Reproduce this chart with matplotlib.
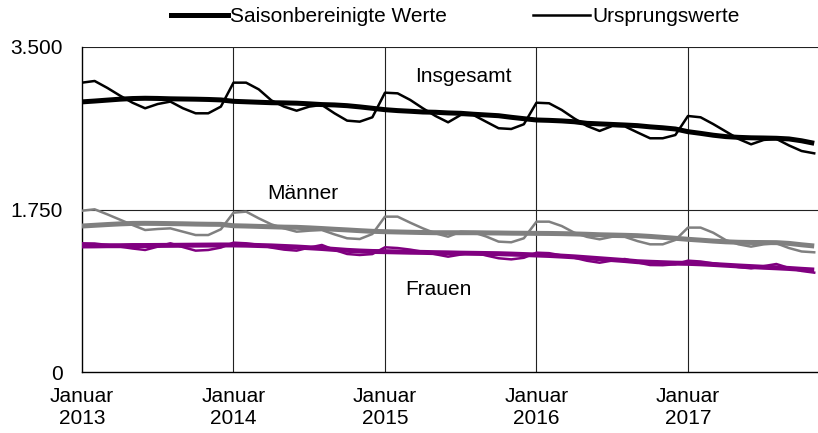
import matplotlib
matplotlib.use("Agg")
import matplotlib.pyplot as plt
from matplotlib.lines import Line2D

# ---------------- data (Jan 2013 .. Nov 2017) ----------------
ins_orig = [3116, 3134, 3060, 2977, 2900, 2840, 2886, 2912, 2840, 2786, 2786, 2858,
            3116, 3116, 3044, 2925, 2858, 2814, 2858, 2876, 2786, 2707, 2696, 2743,
            3008, 3001, 2930, 2840, 2757, 2689, 2768, 2768, 2696, 2625, 2617, 2668,
            2900, 2894, 2822, 2730, 2650, 2596, 2649, 2645, 2580, 2517, 2517, 2552,
            2757, 2743, 2670, 2590, 2510, 2452, 2499, 2510, 2440, 2380, 2355]
ins_sa = [2909, 2918, 2928, 2938, 2945, 2948, 2946, 2942, 2940, 2938, 2935, 2930,
          2915, 2910, 2905, 2900, 2898, 2895, 2888, 2880, 2876, 2868, 2855, 2840,
          2825, 2815, 2808, 2800, 2797, 2790, 2786, 2776, 2768, 2760, 2743, 2728,
          2714, 2710, 2704, 2695, 2678, 2672, 2666, 2660, 2653, 2640, 2630, 2617,
          2588, 2570, 2550, 2535, 2527, 2522, 2520, 2517, 2510, 2490, 2463]
maenner_orig = [1737, 1752, 1698, 1641, 1583, 1529, 1540, 1547, 1511, 1475, 1475, 1537,
                1716, 1727, 1655, 1590, 1547, 1511, 1522, 1529, 1482, 1440, 1432, 1486,
                1673, 1673, 1608, 1547, 1493, 1457, 1511, 1504, 1460, 1404, 1397, 1440,
                1619, 1619, 1572, 1500, 1455, 1429, 1457, 1455, 1410, 1375, 1375, 1422,
                1555, 1555, 1500, 1420, 1375, 1350, 1375, 1386, 1335, 1298, 1289]
maenner_sa = [1572, 1580, 1588, 1595, 1600, 1601, 1600, 1598, 1596, 1593, 1591, 1590,
              1575, 1572, 1568, 1564, 1560, 1558, 1552, 1545, 1537, 1530, 1522, 1515,
              1511, 1508, 1505, 1502, 1500, 1500, 1500, 1500, 1498, 1497, 1495, 1494,
              1493, 1492, 1490, 1487, 1483, 1478, 1475, 1472, 1468, 1460, 1450, 1440,
              1429, 1420, 1410, 1402, 1397, 1395, 1394, 1393, 1385, 1370, 1357]
frauen_orig = [1386, 1384, 1368, 1350, 1330, 1314, 1350, 1386, 1345, 1307, 1314, 1340,
               1393, 1386, 1370, 1340, 1318, 1307, 1340, 1368, 1315, 1271, 1260, 1270,
               1343, 1335, 1318, 1295, 1268, 1242, 1265, 1290, 1255, 1225, 1213, 1230,
               1285, 1280, 1255, 1230, 1198, 1177, 1200, 1217, 1180, 1152, 1150, 1160,
               1199, 1190, 1170, 1150, 1130, 1116, 1140, 1163, 1120, 1088, 1070]
frauen_sa = [1357, 1358, 1360, 1360, 1362, 1362, 1363, 1364, 1365, 1366, 1367, 1368,
             1368, 1366, 1362, 1358, 1352, 1346, 1338, 1330, 1320, 1310, 1303, 1298,
             1296, 1293, 1290, 1288, 1285, 1283, 1280, 1278, 1276, 1274, 1270, 1265,
             1260, 1255, 1248, 1240, 1230, 1220, 1210, 1200, 1188, 1182, 1177, 1172,
             1170, 1165, 1158, 1150, 1142, 1135, 1128, 1122, 1115, 1106, 1098]

tick_pos = [0, 12, 24, 36, 48]
tick_labels = ["Januar\n2013", "Januar\n2014", "Januar\n2015", "Januar\n2016", "Januar\n2017"]
y_ticks = [0, 1750, 3500]
y_labels = ["0", "1.750", "3.500"]
legend_labels = ["Saisonbereinigte Werte", "Ursprungswerte"]

plt.rcParams["font.family"] = ["Liberation Sans", "DejaVu Sans"]
FS = 15

BLACK = "#000000"
GRAY = "#808080"
PURPLE = "#800080"
THICK = 3.6
THIN = 1.8

fig = plt.figure(figsize=(8.18, 4.33), dpi=100)
ax = fig.add_axes([82 / 818, 1 - 372 / 433, (818 - 82) / 818, 325 / 433])

x = list(range(len(ins_orig)))

for xv in tick_pos[1:]:
    ax.axvline(xv, color="#222222", lw=0.8, zorder=1)
for yv in y_ticks[1:]:
    ax.axhline(yv, color="#222222", lw=0.8, zorder=1)

ax.plot(x, ins_sa, color=BLACK, lw=THICK, zorder=3, solid_capstyle="butt")
ax.plot(x, ins_orig, color=BLACK, lw=THIN, zorder=4)
ax.plot(x, maenner_sa, color=GRAY, lw=THICK, zorder=3, solid_capstyle="butt")
ax.plot(x, maenner_orig, color=GRAY, lw=THIN, zorder=4)
ax.plot(x, frauen_sa, color=PURPLE, lw=THICK, zorder=3, solid_capstyle="butt")
ax.plot(x, frauen_orig, color=PURPLE, lw=THIN, zorder=4)

ax.set_xlim(0, 58.3)
ax.set_ylim(0, 3500)
ax.set_xticks(tick_pos)
ax.set_xticklabels(tick_labels, fontsize=FS, linespacing=1.2)
ax.set_yticks(y_ticks)
ax.set_yticklabels(y_labels, fontsize=FS)
ax.tick_params(axis="x", length=0, pad=11)
ax.tick_params(axis="y", length=0, pad=14)
for s in ["top", "right"]:
    ax.spines[s].set_visible(False)
for s in ["left", "bottom"]:
    ax.spines[s].set_color(BLACK)
    ax.spines[s].set_linewidth(1.0)

ax.text(26.4, 3127, "Insgesamt", fontsize=FS, ha="left", va="baseline")
ax.text(14.7, 1863, "Männer", fontsize=FS, ha="left", va="baseline")
ax.text(25.6, 829, "Frauen", fontsize=FS, ha="left", va="baseline")

handles = [Line2D([], [], color=BLACK, lw=THICK), Line2D([], [], color=BLACK, lw=THIN)]
px = FS * 100 / 72
fig.legend(handles, legend_labels, loc="center", bbox_to_anchor=(455.5 / 818, 1 - 17 / 433),
           ncol=2, frameon=False, fontsize=FS,
           handlelength=57 / px, handletextpad=2 / px, columnspacing=86 / px,
           borderpad=0, borderaxespad=0)

fig.savefig("out.png", dpi=100)
